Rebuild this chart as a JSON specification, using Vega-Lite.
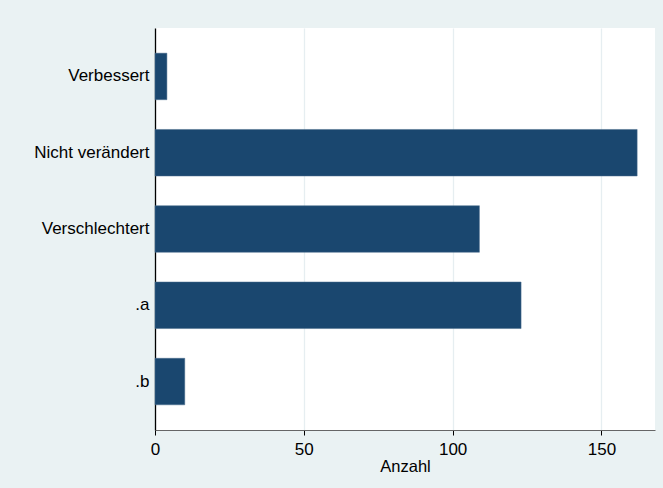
{
  "$schema": "https://vega.github.io/schema/vega-lite/v6.json",
  "autosize": {"type": "none"},
  "padding": {"left": 155, "top": 28, "right": 8, "bottom": 58},
  "width": 500,
  "height": 402,
  "background": "#EAF2F3",
  "config": {
    "view": {"fill": "white", "stroke": null},
    "font": "Liberation Sans"
  },
  "data": {
    "values": [
      {"kategorie": "Verbessert", "anzahl": 4},
      {"kategorie": "Nicht verändert", "anzahl": 162},
      {"kategorie": "Verschlechtert", "anzahl": 109},
      {"kategorie": ".a", "anzahl": 123},
      {"kategorie": ".b", "anzahl": 10}
    ]
  },
  "mark": {"type": "bar", "color": "#1a476f", "stroke": "#4a6d8c", "strokeWidth": 0.5},
  "encoding": {
    "y": {
      "field": "kategorie",
      "type": "nominal",
      "sort": null,
      "scale": {"paddingInner": 0.39, "paddingOuter": 0.33},
      "axis": {
        "title": null,
        "ticks": false,
        "labelPadding": 6,
        "labelFontSize": 17,
        "labelColor": "#000000",
        "domainColor": "#000000",
        "domainWidth": 1.3,
        "grid": false
      }
    },
    "x": {
      "field": "anzahl",
      "type": "quantitative",
      "scale": {"domain": [0, 168], "nice": false},
      "axis": {
        "title": "Anzahl",
        "titleFontSize": 16.5,
        "titleFontWeight": "normal",
        "titleColor": "#000000",
        "titlePadding": 1,
        "values": [0, 50, 100, 150],
        "labelFontSize": 17,
        "labelColor": "#000000",
        "labelPadding": 6,
        "labelFlush": false,
        "tickSize": 5,
        "tickColor": "#000000",
        "domainColor": "#666666",
        "grid": true,
        "gridColor": "#E6EEF1",
        "gridWidth": 1.3
      }
    }
  }
}
